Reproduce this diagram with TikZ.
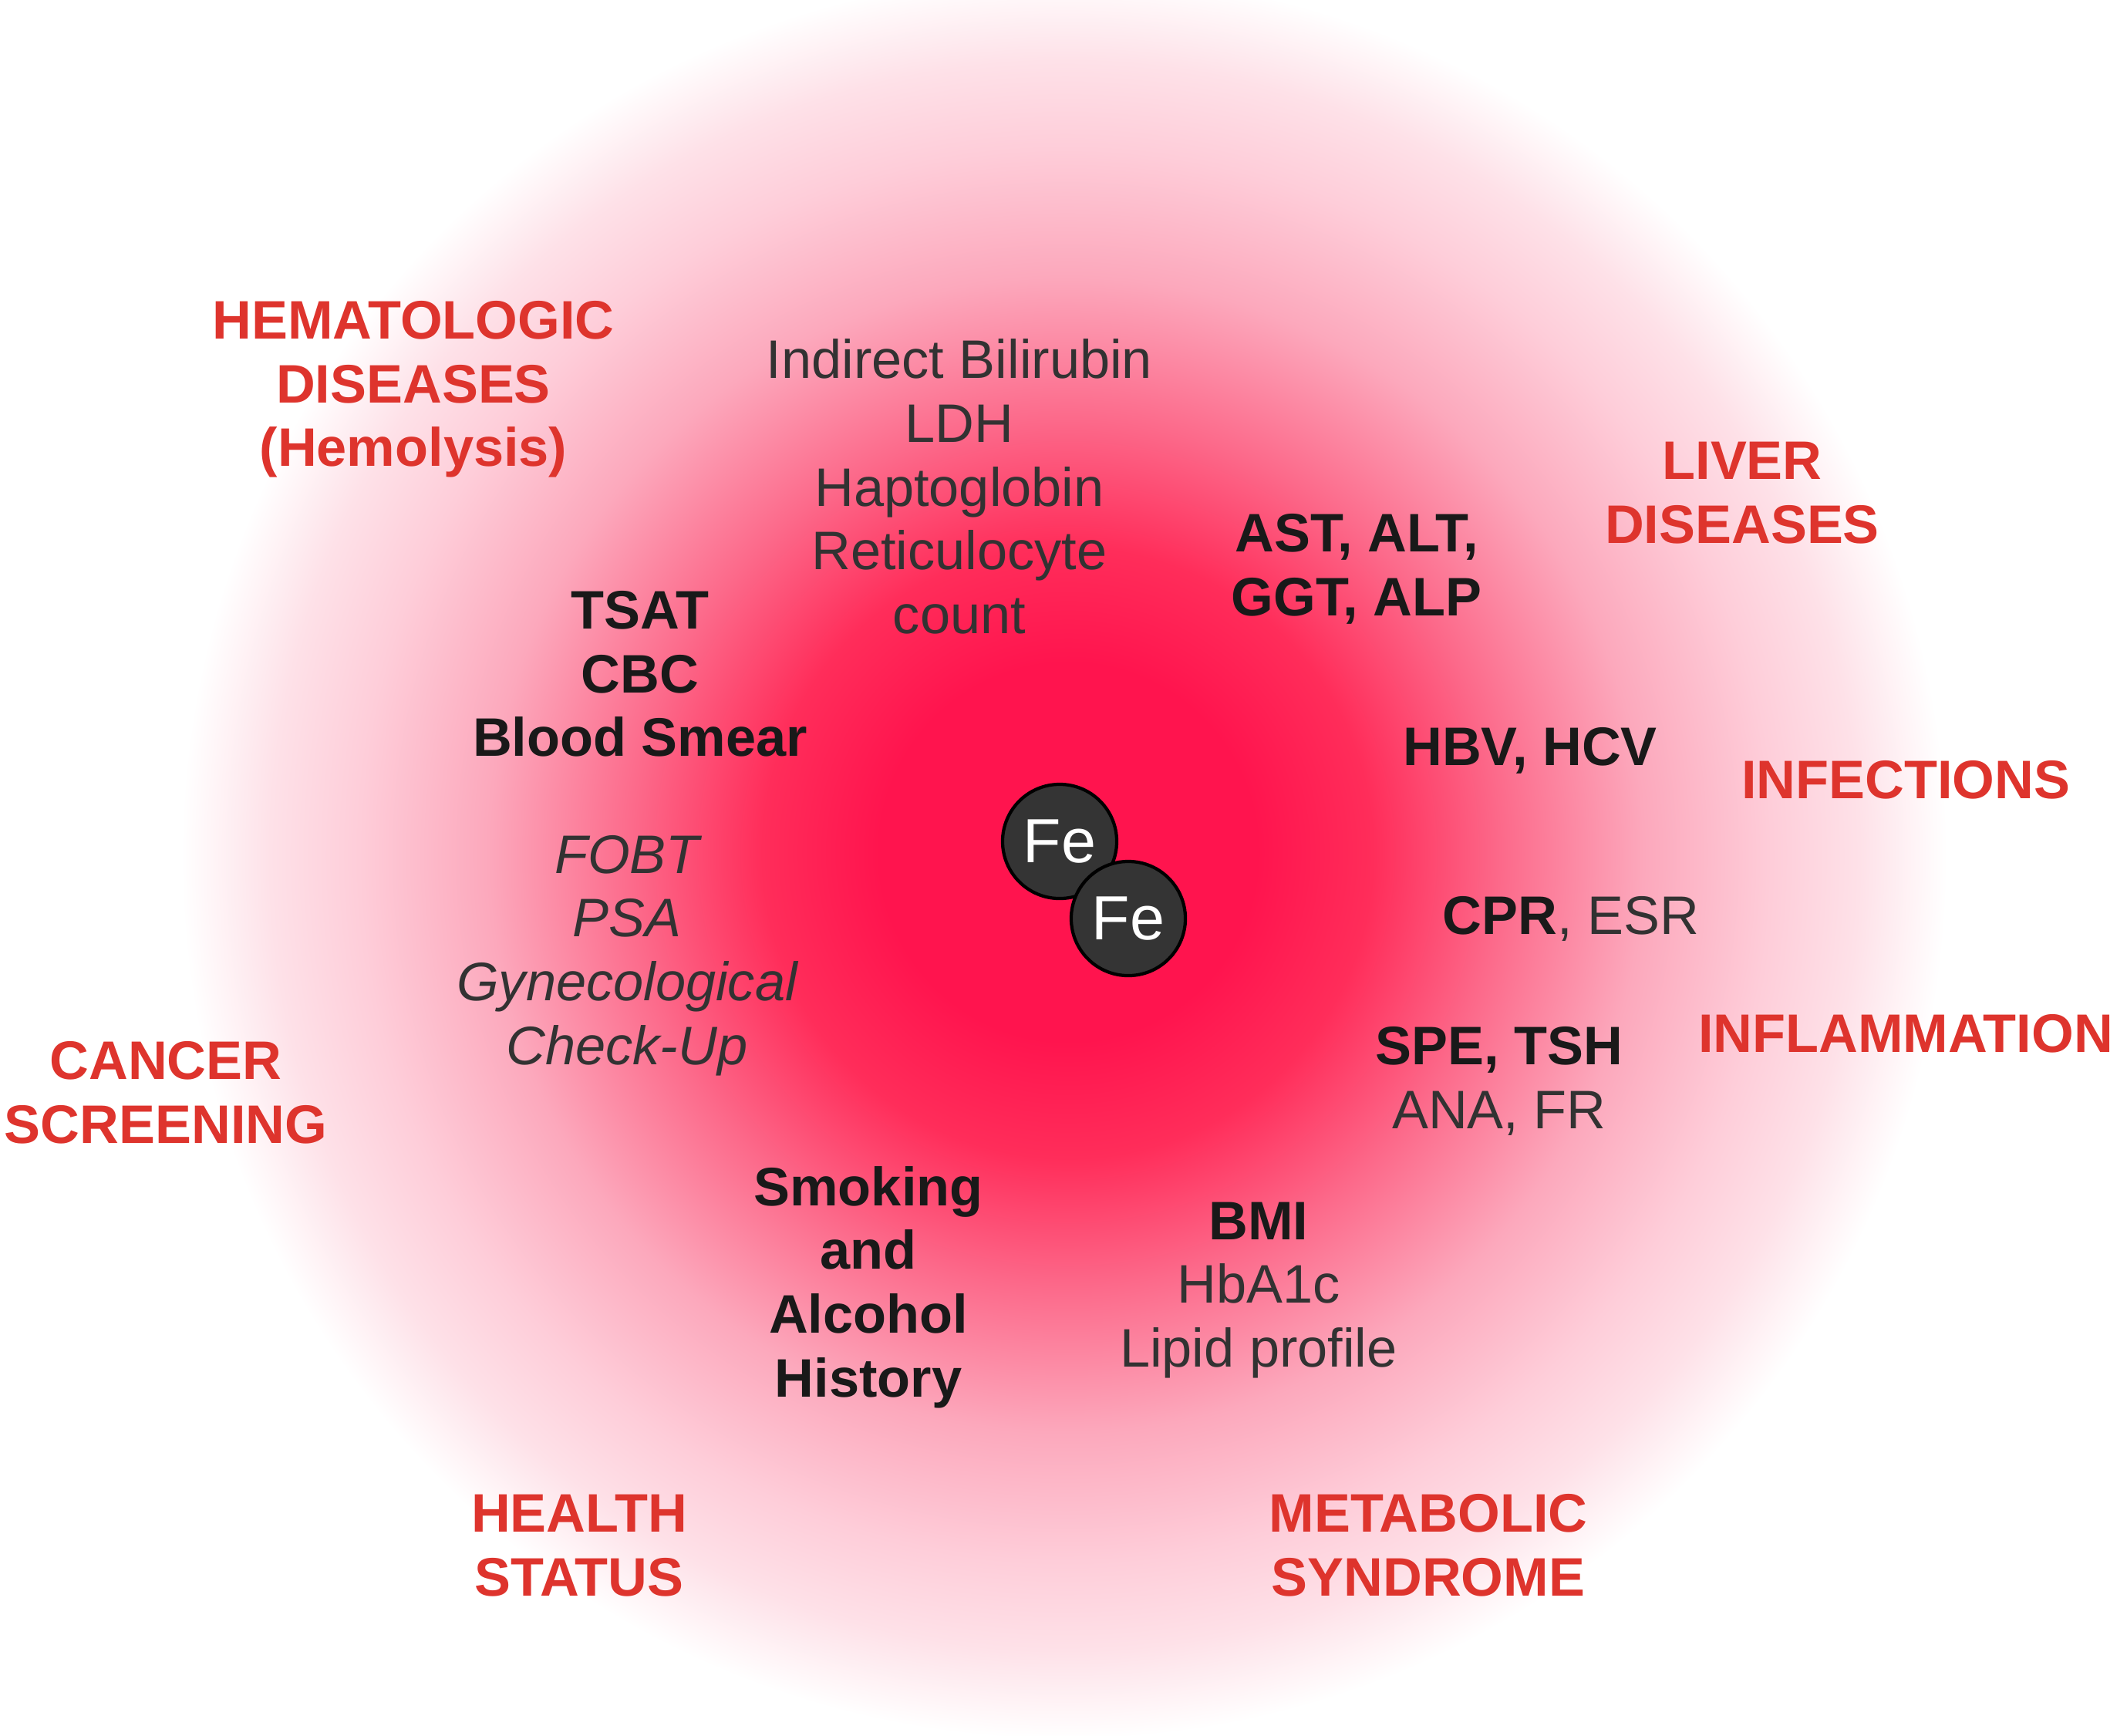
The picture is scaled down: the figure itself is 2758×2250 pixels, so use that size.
\documentclass[tikz,border=0pt]{standalone}
\usepackage{fontspec}
\setmainfont{Liberation Sans}
\definecolor{redlab}{RGB}{222,52,45}
\definecolor{txt}{RGB}{25,25,25}
\definecolor{txtg}{RGB}{50,50,50}
\definecolor{core}{RGB}{255,20,78}
\definecolor{g1}{RGB}{255,45,90}
\definecolor{g2}{RGB}{252,105,138}
\definecolor{g3}{RGB}{252,168,188}
\definecolor{g4}{RGB}{254,205,217}
\definecolor{g5}{RGB}{254,225,232}
\definecolor{fedark}{RGB}{52,52,52}
\pgfdeclareradialshading{glow}{\pgfpoint{0.3bp}{0.3bp}}{%
  color(0bp)=(core); color(3.4bp)=(core); color(5.5bp)=(g1); color(7.8bp)=(g2);
  color(10.4bp)=(g3); color(12.72bp)=(g4); color(14.31bp)=(g5);
  color(15.9bp)=(white); color(50bp)=(white)}
\begin{document}
\begin{tikzpicture}[x=0.01cm,y=-0.01cm,
  lab/.style={text=redlab,font=\fontsize{20}{23.5}\selectfont\bfseries,align=center,inner sep=0pt},
  bt/.style={text=txt,font=\fontsize{20}{23.5}\selectfont\bfseries,align=center,inner sep=0pt},
  rt/.style={text=txtg,font=\fontsize{20}{23.5}\selectfont,align=center,inner sep=0pt},
  it/.style={text=txtg,font=\fontsize{20}{23.5}\selectfont\itshape,align=center,inner sep=0pt},
  febox/.style={circle,fill=fedark,draw=black,line width=1.2pt,minimum size=1.48cm,inner sep=0pt,
    text=white,font=\fontsize{23}{25}\selectfont}]
\useasboundingbox (0,0) rectangle (2758,2250);
\begin{scope}
\clip (0,0) rectangle (2758,2250);
\fill[shading=glow] (1365,1125) circle (1800);
\end{scope}
% red category labels
\node[lab] (hem) at (536,505) {HEMATOLOGIC\\DISEASES\\(Hemolysis)};
\node[lab] (liv) at (2259,639) {LIVER\\DISEASES};
\node[lab] (inf) at (2471,1011) {INFECTIONS};
\node[lab] (infl) at (2471,1340) {INFLAMMATION};
\node[lab] (can) at (215,1417) {CANCER\\SCREENING};
\node[lab] (hea) at (751,2004) {HEALTH\\STATUS};
\node[lab] (met) at (1852,2004) {METABOLIC\\SYNDROME};
% tests
\node[rt] (bil) at (1244,631) {Indirect Bilirubin\\LDH\\Haptoglobin\\Reticulocyte\\count};
\node[bt] (ast) at (1759,738) {AST, ALT,\\GGT, ALP};
\node[bt] (tsat) at (830,874) {TSAT\\CBC\\Blood Smear};
\node[bt] (hbv) at (1984,973) {HBV, HCV};
\node[rt] (cpr) at (2037,1191) {{\bfseries\color{txt}CPR}, ESR};
\node[rt] (spe) at (1944,1402) {{\bfseries\color{txt}SPE, TSH}\\ANA, FR};
\node[it] (fobt) at (813,1239) {FOBT\\PSA\\Gynecological\\Check-Up};
\node[bt] (smk) at (1126,1669) {Smoking\\and\\Alcohol\\History};
\node[rt] (bmi) at (1632,1673) {{\bfseries\color{txt}BMI}\\HbA1c\\Lipid profile};
% iron
\node[febox] (fe1) at (1374,1091) {Fe};
\node[febox] (fe2) at (1463,1191) {Fe};
\end{tikzpicture}
\end{document}
